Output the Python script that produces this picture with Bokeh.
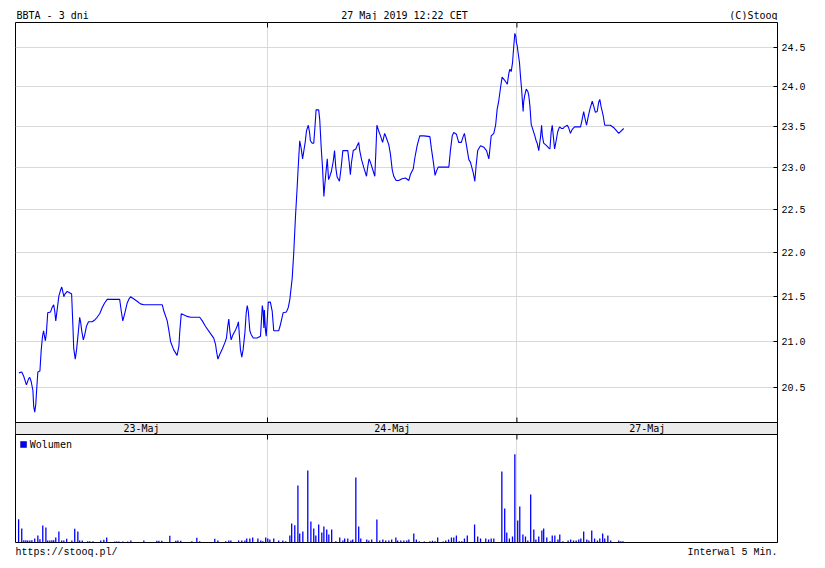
from bokeh.plotting import figure
from bokeh.layouts import column
from bokeh.models import Range1d, LinearScale, FixedTicker, PrintfTickFormatter
from bokeh.embed import file_html
from bokeh.resources import INLINE
from bokeh.core.properties import value
import math

# ---------------- data ----------------
TITLE = "BBTA - 3 dni"
STAMP = "27 Maj 2019 12:22 CET"
COPYRIGHT = "(C)Stooq"
SOURCE = "https://stooq.pl/"
INTERVAL = "Interwal 5 Min."
VOL_LABEL = "Wolumen"

DAYS = ["23-Maj", "24-Maj", "27-Maj"]
DAY_START = [0, 97, 193]          # 5-minute bar index where each session starts
X_END = 293.3                     # axis end (bars)
PRICE_TICKS = [20.5, 21.0, 21.5, 22.0, 22.5, 23.0, 23.5, 24.0, 24.5]

PRICE_X = [
    1.3, 2.4, 3.2, 4.2, 5.1, 5.5, 6.0, 6.7, 7.0, 7.4, 7.8, 8.1, 8.6, 9.4, 9.9, 10.4, 10.8, 11.3, 11.5, 11.9,
    12.4, 13.5, 14.1, 14.7, 15.1, 15.5, 16.1, 16.7, 17.3, 17.8, 18.2, 18.6, 19.0, 19.9, 20.5, 21.6, 22.1, 22.4,
    23.0, 23.5, 24.1, 24.7, 25.1, 25.5, 26.1, 26.6, 27.3, 28.1, 29.5, 30.5, 31.4, 32.4, 33.4, 34.3, 35.3, 36.6,
    40.1, 40.7, 41.3, 42.1, 43.0, 43.6, 44.3, 45.3, 46.8, 48.1, 49.4, 56.5, 57.1, 58.4, 59.0, 59.7, 60.9, 62.2,
    62.9, 63.2, 63.8, 64.5, 66.1, 67.4, 70.9, 71.9, 73.1, 74.8, 76.3, 77.0, 77.4, 77.9, 78.6, 79.6, 80.6, 81.2,
    81.7, 82.1, 82.5, 83.0, 83.6, 84.7, 85.3, 85.8, 86.3, 86.6, 87.1, 87.6, 88.3, 88.8, 89.2, 89.6, 90.2, 90.7,
    91.5, 93.0, 94.3, 95.0, 95.3, 95.6, 95.8, 96.2, 96.5, 96.9,
    97.3, 98.1, 98.8, 99.4, 101.3, 102.0, 103.0, 104.3, 105.0, 105.6, 106.5, 107.1, 107.8, 108.4, 108.8, 109.4,
    110.0, 110.5, 111.0, 111.5, 112.0, 112.7, 113.2, 113.5, 114.2, 114.8, 115.2, 115.7, 116.7, 117.1, 117.7,
    118.2, 118.7, 119.0, 119.6, 120.0, 120.5, 120.9, 121.6, 122.3, 122.8, 123.3, 123.8, 124.7, 125.4, 126.0,
    127.9, 128.4, 128.9, 129.3, 130.0, 131.0, 131.5, 132.1, 132.5, 133.2, 134.1, 135.1, 135.6, 136.1, 136.6,
    137.7, 138.3, 138.7, 139.1, 139.8, 140.5, 141.3, 141.8, 142.1, 142.8, 143.7, 144.3, 145.0, 145.6, 146.5,
    147.5, 148.8, 150.1, 151.4, 152.0, 153.1, 153.7, 154.6, 155.6, 157.2, 159.5, 160.1, 160.8, 161.5, 162.0,
    162.7, 166.8, 167.4, 168.1, 168.7, 169.7, 170.6, 171.6, 172.3, 172.8, 173.6, 174.5, 175.1, 176.2, 176.8,
    177.3, 177.9, 179.0, 180.3, 181.3, 182.2, 182.6, 183.1, 184.1, 184.8, 185.4, 186.0, 186.7, 187.3, 188.3,
    189.3, 189.9, 190.3, 190.8, 191.3, 191.8, 192.2, 192.6, 192.8,
    193.1, 193.5, 194.0, 194.4, 194.8, 195.1, 195.4, 195.6, 196.0, 196.6, 197.2, 197.6, 198.0, 198.5, 199.3,
    199.9, 200.4, 200.8, 201.4, 202.1, 202.5, 202.8, 203.3, 204.4, 205.3, 205.7, 206.2, 206.6, 207.0, 207.5,
    208.1, 208.7, 209.4, 210.2, 210.8, 211.3, 212.4, 212.9, 213.6, 214.3, 215.2, 217.5, 218.1, 218.7, 219.1,
    219.8, 220.4, 221.1, 222.0, 222.6, 223.2, 223.9, 224.5, 224.9, 225.4, 226.2, 226.8, 229.0, 230.3, 232.2,
    234.1,
]
PRICE = [
    20.66, 20.67, 20.62, 20.53, 20.60, 20.61, 20.57, 20.47, 20.30, 20.24, 20.32, 20.46, 20.67, 20.68, 20.91,
    21.06, 21.12, 21.04, 21.01, 21.10, 21.32, 21.33, 21.38, 21.41, 21.34, 21.23, 21.37, 21.51, 21.57, 21.61,
    21.56, 21.50, 21.53, 21.56, 21.55, 21.53, 21.17, 20.93, 20.81, 20.91, 21.08, 21.27, 21.21, 21.12, 21.02,
    21.07, 21.17, 21.22, 21.22, 21.24, 21.27, 21.31, 21.38, 21.43, 21.47, 21.47, 21.47, 21.34, 21.23, 21.32,
    21.43, 21.47, 21.50, 21.48, 21.45, 21.42, 21.41, 21.41, 21.34, 21.23, 21.13, 21.00, 20.91, 20.85, 20.95,
    21.10, 21.31, 21.30, 21.28, 21.27, 21.27, 21.23, 21.17, 21.10, 21.04, 20.97, 20.89, 20.81, 20.86, 20.92,
    20.99, 21.04, 21.17, 21.25, 21.12, 21.02, 21.07, 21.13, 21.17, 21.22, 21.02, 20.91, 20.83, 20.91, 21.10,
    21.32, 21.40, 21.34, 21.12, 21.08, 21.04, 21.04, 21.06, 21.40, 21.34, 21.15, 21.35, 21.13, 21.06, 21.24,
    21.44, 21.44, 21.34, 21.12, 21.12, 21.19, 21.32, 21.33, 21.38, 21.47, 21.71, 22.00, 22.44, 22.76, 23.00,
    23.33, 23.23, 23.11, 23.21, 23.31, 23.45, 23.52, 23.43, 23.33, 23.30, 23.30, 23.47, 23.71, 23.71, 23.59,
    23.23, 22.99, 22.66, 22.78, 22.98, 23.11, 22.86, 22.89, 22.96, 23.08, 23.21, 23.00, 22.89, 22.84, 23.02,
    23.21, 23.21, 23.08, 22.92, 23.06, 23.21, 23.23, 23.27, 23.31, 23.21, 23.10, 23.00, 22.90, 23.02, 23.11,
    23.07, 22.96, 22.90, 23.19, 23.52, 23.45, 23.39, 23.31, 23.38, 23.42, 23.36, 23.28, 23.17, 22.98, 22.90,
    22.85, 22.85, 22.87, 22.88, 22.85, 22.92, 22.99, 23.12, 23.27, 23.39, 23.39, 23.38, 23.23, 23.08, 22.91,
    22.96, 23.01, 23.01, 23.21, 23.39, 23.43, 23.41, 23.31, 23.31, 23.38, 23.42, 23.27, 23.10, 23.07, 22.94,
    22.84, 23.03, 23.21, 23.27, 23.25, 23.21, 23.11, 23.23, 23.39, 23.42, 23.52, 23.72, 23.82, 23.99, 24.12,
    24.08, 24.03, 24.17, 24.22, 24.19, 24.30, 24.52, 24.68, 24.64, 24.56,
    24.52, 24.42, 24.30, 24.12, 23.97, 23.82, 23.69, 23.81, 23.89, 23.97, 23.94, 23.88, 23.76, 23.53, 23.45,
    23.39, 23.33, 23.30, 23.21, 23.38, 23.52, 23.39, 23.30, 23.27, 23.24, 23.23, 23.44, 23.52, 23.39, 23.23,
    23.33, 23.44, 23.50, 23.48, 23.48, 23.50, 23.52, 23.49, 23.42, 23.47, 23.50, 23.50, 23.59, 23.69, 23.62,
    23.52, 23.62, 23.72, 23.82, 23.75, 23.68, 23.69, 23.81, 23.84, 23.75, 23.64, 23.52, 23.52, 23.49, 23.42,
    23.48,
]

VOL_X = [
    1.2, 2.4, 3.2, 4.0, 4.7, 5.5, 6.3, 7.4, 8.6, 9.4, 10.5, 11.7, 12.4, 13.2, 14.0, 14.7, 15.5, 16.7, 17.8, 18.6,
    19.7, 21.7, 22.8, 24.0, 24.7, 25.7, 27.8, 28.6, 29.8, 32.8, 34.0, 35.1, 38.2, 39.0, 39.8, 41.3, 43.2, 44.4,
    49.4, 54.4, 55.2, 56.3, 59.4, 61.7, 62.5, 63.6, 67.9, 69.8, 70.9, 76.7, 77.9, 80.9, 82.1, 82.9, 85.9, 87.1,
    88.3, 89.0, 90.2, 91.3, 93.3, 94.4, 95.2, 96.3, 97.1, 97.9, 99.4, 101.3, 102.9, 104.0, 105.6, 106.3, 107.5,
    108.7, 109.4, 110.6, 112.5, 113.7, 114.8, 115.6, 116.7, 117.9, 118.7, 119.8, 120.6, 121.7, 123.3, 124.8,
    126.0, 126.7, 127.9, 129.1, 129.8, 131.0, 132.1, 132.9, 135.2, 136.0, 137.1, 139.1, 140.2, 141.4, 142.5,
    143.7, 144.8, 146.4, 147.1, 148.3, 149.5, 150.6, 151.4, 153.3, 154.3, 155.4, 157.4, 159.5, 160.5, 161.5,
    162.5, 164.6, 165.6, 166.7, 167.8, 168.7, 169.7, 170.8, 171.8, 172.8, 173.9, 176.7, 177.9, 179.0, 181.0,
    182.1, 183.1, 184.1, 187.2, 188.3, 189.1, 190.1, 191.3, 192.2, 193.3, 194.1, 195.3, 196.3, 197.2, 198.3,
    199.5, 200.3, 201.4, 202.6, 203.3, 204.5, 205.7, 206.6, 207.6, 208.8, 209.5, 210.7, 212.7, 213.7, 214.8,
    215.8, 216.8, 217.6, 218.7, 219.9, 220.7, 221.8, 222.9, 224.0, 224.9, 226.0, 226.8, 228.0, 229.1, 232.2,
    233.0, 233.8,
]
VOL = [
    23.3, 14, 2.3, 2.3, 2, 2, 2.3, 4, 7, 3.3, 17, 15, 2, 2, 2.3, 2.3, 5, 11, 2, 2,
    3.7, 2, 13.7, 11, 2, 2, 1.3, 1.3, 1.3, 2, 2.7, 5, 1, 1, 1, 1, 1, 2,
    2, 1.7, 1.7, 1.7, 6.7, 1.7, 2, 1.7, 1.3, 4.7, 1.3, 3.7, 2, 1.3, 2, 2, 2, 2,
    2, 4, 4, 5, 4, 2, 1.3, 5, 4, 3, 4, 2, 2, 1.3, 7, 19, 17.3,
    57, 9, 11, 72, 21, 14, 7, 18, 10, 16, 13, 8, 13, 1.3, 5,
    2, 4, 4, 2, 3, 65, 16, 4, 3, 2, 3, 23, 2, 3, 2,
    2, 3, 5, 2, 2, 2, 2, 3, 9, 3, 1.3, 1, 1.3, 1.7, 1.3,
    5, 1, 2, 3, 5, 5, 7, 1.3, 1.3, 4, 7, 18, 6, 4, 4,
    3, 4, 4, 71, 34, 10, 4, 6, 88.3, 22, 36, 8, 6, 2, 48,
    13, 3, 6, 12, 14, 5, 1.3, 7, 7, 3, 8, 1.3, 2, 3, 2,
    2, 3, 4, 11, 3, 2, 12, 4, 2, 4, 9, 4, 7, 2, 2,
    1.3, 1.3,
]

# ---------------- layout constants ----------------
FONT = "DejaVu Sans Mono"
AXFONT = "Liberation Mono"
BLUE = "#0000ff"
GRID = "#d9d9d9"
BAND = "#ebebeb"
W = 825
BL, BR = 15, 48                    # left / right borders around the 762px frame
FW = W - BL - BR
FRAME_H = 520                      # price 400 + band 12 + volume 108
PRICE_H, BAND_H, VOL_H = 400, 12, 108
P_TOP, P_BOT = 24.82, 20.13
per_px = math.log(P_TOP / P_BOT) / PRICE_H
p_start = P_TOP * math.exp(-FRAME_H * per_px)
vol_panel_top = max(VOL) / 0.818
vol_end = vol_panel_top * FRAME_H / VOL_H


def strip(height):
    f = figure(width=W, height=height, x_range=Range1d(0, FW), y_range=Range1d(0, height),
               output_backend="svg", toolbar_location=None,
               min_border_left=BL, min_border_right=BR, min_border_top=0, min_border_bottom=0,
               x_axis_location=None, y_axis_location=None, outline_line_color=None)
    f.xgrid.visible = False
    f.ygrid.visible = False
    return f


# ---------------- header ----------------
HEAD_H = 20
head = strip(HEAD_H)
tk = dict(text_font=value(FONT), text_font_size="10px", text_color="black", text_baseline="middle")
head.text(x=[1], y=[5.5], text=[TITLE], text_align="left", **tk)
head.text(x=[389], y=[5.5], text=[STAMP], text_align="center", **tk)
head.text(x=[FW], y=[5.5], text=[COPYRIGHT], text_align="right", **tk)

# ---------------- main chart ----------------
p = figure(width=W, height=FRAME_H + 4, output_backend="svg", toolbar_location=None,
           x_range=Range1d(0, X_END), y_range=Range1d(p_start, P_TOP), y_axis_type="log",
           x_axis_location=None, y_axis_location="right",
           min_border_left=BL, min_border_right=BR, min_border_top=2, min_border_bottom=2)
p.extra_y_ranges = {"px": Range1d(0, FRAME_H), "vol": Range1d(0, vol_end)}
p.extra_y_scales = {"px": LinearScale(), "vol": LinearScale()}
p.outline_line_color = "black"
p.outline_line_width = 1

ticker = FixedTicker(ticks=PRICE_TICKS)
p.yaxis.ticker = ticker
p.ygrid.ticker = ticker
p.yaxis.formatter = PrintfTickFormatter(format="%.1f")
p.yaxis.major_tick_in = 4
p.yaxis.major_tick_out = 0
p.yaxis.minor_tick_line_color = None
p.yaxis.axis_line_color = "black"
p.yaxis.major_tick_line_color = "black"
p.yaxis.major_label_standoff = 4
p.yaxis.major_label_text_font = AXFONT
p.yaxis.major_label_text_font_size = "10px"
p.yaxis.major_label_text_color = "black"
p.ygrid.grid_line_color = GRID
p.xgrid.ticker = FixedTicker(ticks=DAY_START[1:])
p.xgrid.grid_line_color = GRID

# volume bars
p.vbar(x=VOL_X, top=VOL, bottom=0, width=0.5, y_range_name="vol",
       fill_color=BLUE, line_color=None)

# date band
band_bot = VOL_H
band_top = VOL_H + BAND_H
p.quad(left=[0], right=[X_END], bottom=[band_bot], top=[band_top], y_range_name="px",
       fill_color=BAND, line_color="black", line_width=1)
day_ends = DAY_START[1:] + [X_END]
centers = [(a + b) / 2 for a, b in zip(DAY_START, day_ends)]
p.text(x=centers, y=[band_bot + BAND_H / 2] * 3, text=DAYS, y_range_name="px",
       text_align="center", text_baseline="middle", text_font=value(FONT),
       text_font_size="10px", text_color="black")

# day boundary ticks
tick_x, tick_y0, tick_y1 = [], [], []
for b in DAY_START[1:]:
    tick_x += [b, b, b]
    tick_y0 += [FRAME_H, band_top, band_bot]
    tick_y1 += [FRAME_H - 5, band_top + 5, band_bot - 5]
p.segment(x0=tick_x, y0=tick_y0, x1=tick_x, y1=tick_y1, y_range_name="px",
          line_color="black", line_width=1)

# volume legend
p.rect(x=[3.1], y=[VOL_H - 10], width=6, height=6, width_units="screen", height_units="screen",
       y_range_name="px", fill_color=BLUE, line_color="#00007f", line_width=0.5)
p.text(x=[5.5], y=[VOL_H - 10], text=[VOL_LABEL], y_range_name="px", text_align="left",
       text_baseline="middle", text_font=value(FONT), text_font_size="10px", text_color="black")

# price line
p.line(PRICE_X, PRICE, line_color=BLUE, line_width=1.1)

# ---------------- footer ----------------
FOOT_H = 24
foot = strip(FOOT_H)
fk = dict(text_font=value(AXFONT), text_font_size="10px", text_color="black", text_baseline="middle")
foot.text(x=[0], y=[16.5], text=[SOURCE], text_align="left", **fk)
foot.text(x=[FW], y=[16.5], text=[INTERVAL], text_align="right", **fk)

layout = column(head, p, foot, spacing=0)
open("out.html", "w").write(file_html(layout, INLINE))
